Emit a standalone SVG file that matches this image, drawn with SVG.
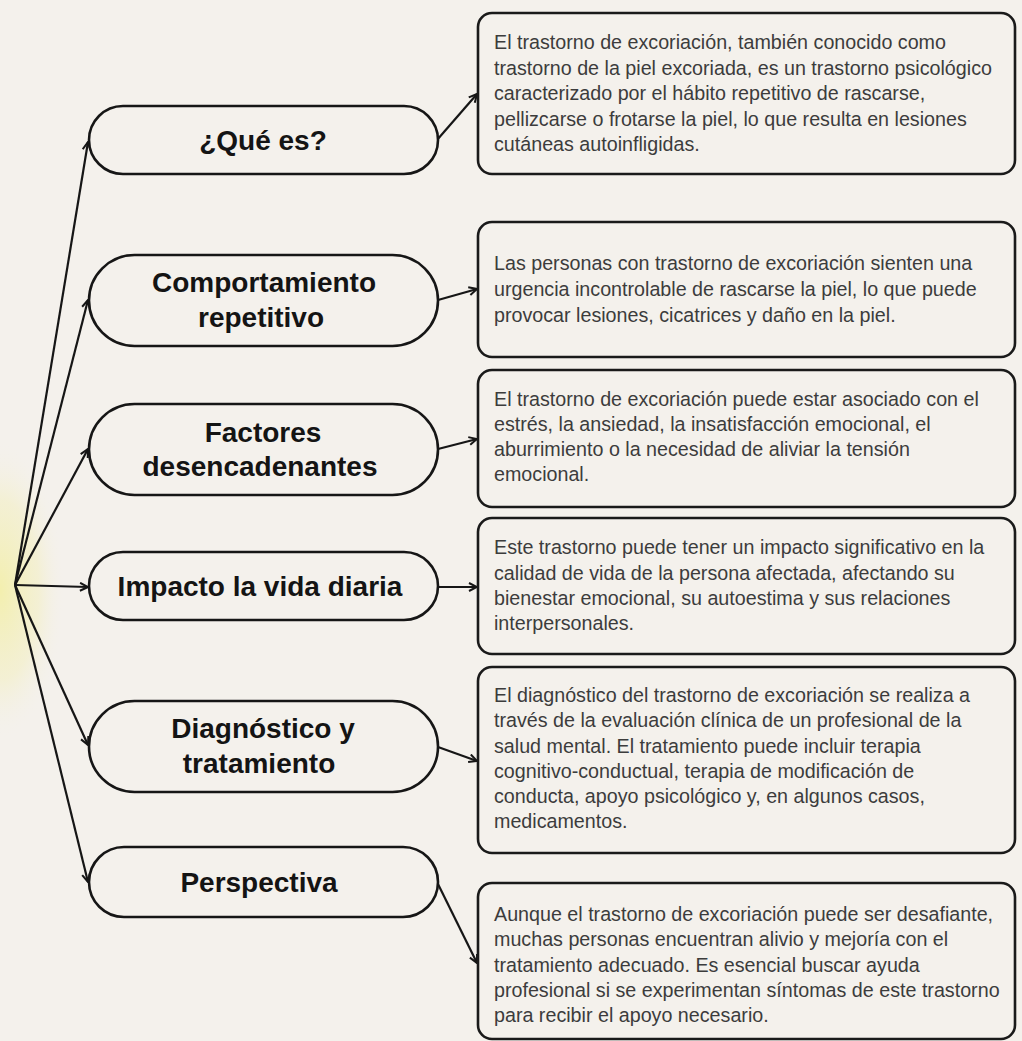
<svg xmlns="http://www.w3.org/2000/svg" width="1022" height="1041" viewBox="0 0 1022 1041">
<style>
.pill{fill:#f4f1ec;stroke:#161616;stroke-width:2.6}
.box{fill:#f4f1ec;stroke:#1a1a1a;stroke-width:2.6}
.lbl{font-family:"Liberation Sans",Arial,sans-serif;font-weight:bold;font-size:28px;fill:#141414;text-anchor:middle}
.body{font-family:"Liberation Sans",Arial,sans-serif;font-size:19.7px;fill:#3c3c3c}
.con{fill:none;stroke:#161616;stroke-width:2.2;marker-end:url(#ah)}
</style>
<defs>
<marker id="ah" viewBox="0 0 10 10" refX="9" refY="5" markerWidth="10" markerHeight="10" markerUnits="userSpaceOnUse" orient="auto">
<path d="M1,1 L9,5 L1,9" fill="none" stroke="#161616" stroke-width="2" stroke-linejoin="miter"/>
</marker>
<radialGradient id="glow" cx="0.5" cy="0.5" r="0.5">
<stop offset="0" stop-color="#f3efae" stop-opacity="1"/>
<stop offset="0.6" stop-color="#f3efc4" stop-opacity="0.6"/>
<stop offset="1" stop-color="#f4f1ec" stop-opacity="0"/>
</radialGradient>
</defs>
<rect x="0" y="0" width="1022" height="1041" fill="#f4f1ec"/>
<ellipse cx="0" cy="590" rx="65" ry="150" fill="url(#glow)"/>

<g id="connectors">
<line class="con" x1="15" y1="585" x2="88" y2="142"/>
<line class="con" x1="15" y1="585" x2="88" y2="300"/>
<line class="con" x1="15" y1="585" x2="88" y2="449"/>
<line class="con" x1="15" y1="585" x2="88" y2="587"/>
<line class="con" x1="15" y1="585" x2="88" y2="745"/>
<line class="con" x1="15" y1="585" x2="88" y2="882"/>
<line class="con" x1="437" y1="140" x2="477" y2="94"/>
<line class="con" x1="438" y1="300" x2="477" y2="289"/>
<line class="con" x1="438" y1="449" x2="477" y2="439"/>
<line class="con" x1="438" y1="587" x2="477" y2="587"/>
<line class="con" x1="438" y1="747" x2="477" y2="761"/>
<line class="con" x1="437" y1="882" x2="477" y2="963"/>
</g>

<g id="node-que-es">
<rect class="pill" x="89" y="106" width="349" height="68" rx="34"/>
<text class="lbl" x="263" y="150">¿Qué es?</text>
</g>
<g id="node-comportamiento">
<rect class="pill" x="89" y="255" width="349" height="91" rx="45.5"/>
<text class="lbl" x="264" y="292">Comportamiento</text>
<text class="lbl" x="261" y="327">repetitivo</text>
</g>
<g id="node-factores">
<rect class="pill" x="89" y="404" width="349" height="91" rx="45.5"/>
<text class="lbl" x="263" y="442">Factores</text>
<text class="lbl" x="260" y="476">desencadenantes</text>
</g>
<g id="node-impacto">
<rect class="pill" x="89" y="552" width="349" height="68" rx="34"/>
<text class="lbl" x="260" y="596">Impacto la vida diaria</text>
</g>
<g id="node-diagnostico">
<rect class="pill" x="89" y="701" width="349" height="91" rx="45.5"/>
<text class="lbl" x="263" y="738">Diagnóstico y</text>
<text class="lbl" x="259" y="773">tratamiento</text>
</g>
<g id="node-perspectiva">
<rect class="pill" x="89" y="847" width="349" height="70" rx="35"/>
<text class="lbl" x="259" y="892">Perspectiva</text>
</g>

<g id="box-que-es">
<rect class="box" x="478" y="13" width="537" height="161" rx="14"/>
<text class="body" x="494" y="49">El trastorno de excoriación, también conocido como</text>
<text class="body" x="494" y="74.5">trastorno de la piel excoriada, es un trastorno psicológico</text>
<text class="body" x="494" y="100">caracterizado por el hábito repetitivo de rascarse,</text>
<text class="body" x="494" y="125.5">pellizcarse o frotarse la piel, lo que resulta en lesiones</text>
<text class="body" x="494" y="151">cutáneas autoinfligidas.</text>
</g>
<g id="box-comportamiento">
<rect class="box" x="478" y="222" width="537" height="135" rx="14"/>
<text class="body" x="494" y="270">Las personas con trastorno de excoriación sienten una</text>
<text class="body" x="494" y="296">urgencia incontrolable de rascarse la piel, lo que puede</text>
<text class="body" x="494" y="322">provocar lesiones, cicatrices y daño en la piel.</text>
</g>
<g id="box-factores">
<rect class="box" x="478" y="370" width="537" height="137" rx="14"/>
<text class="body" x="494" y="406">El trastorno de excoriación puede estar asociado con el</text>
<text class="body" x="494" y="431">estrés, la ansiedad, la insatisfacción emocional, el</text>
<text class="body" x="494" y="456">aburrimiento o la necesidad de aliviar la tensión</text>
<text class="body" x="494" y="481">emocional.</text>
</g>
<g id="box-impacto">
<rect class="box" x="478" y="518" width="537" height="136" rx="14"/>
<text class="body" x="494" y="554">Este trastorno puede tener un impacto significativo en la</text>
<text class="body" x="494" y="579.5">calidad de vida de la persona afectada, afectando su</text>
<text class="body" x="494" y="605">bienestar emocional, su autoestima y sus relaciones</text>
<text class="body" x="494" y="630">interpersonales.</text>
</g>
<g id="box-diagnostico">
<rect class="box" x="478" y="667" width="537" height="186" rx="14"/>
<text class="body" x="494" y="702">El diagnóstico del trastorno de excoriación se realiza a</text>
<text class="body" x="494" y="727">través de la evaluación clínica de un profesional de la</text>
<text class="body" x="494" y="752.5">salud mental. El tratamiento puede incluir terapia</text>
<text class="body" x="494" y="777.5">cognitivo-conductual, terapia de modificación de</text>
<text class="body" x="494" y="803">conducta, apoyo psicológico y, en algunos casos,</text>
<text class="body" x="494" y="828">medicamentos.</text>
</g>
<g id="box-perspectiva">
<rect class="box" x="478" y="883" width="537" height="156" rx="14"/>
<text class="body" x="494" y="921">Aunque el trastorno de excoriación puede ser desafiante,</text>
<text class="body" x="494" y="946">muchas personas encuentran alivio y mejoría con el</text>
<text class="body" x="494" y="971.5">tratamiento adecuado. Es esencial buscar ayuda</text>
<text class="body" x="494" y="996.5">profesional si se experimentan síntomas de este trastorno</text>
<text class="body" x="494" y="1021.5">para recibir el apoyo necesario.</text>
</g>
</svg>
